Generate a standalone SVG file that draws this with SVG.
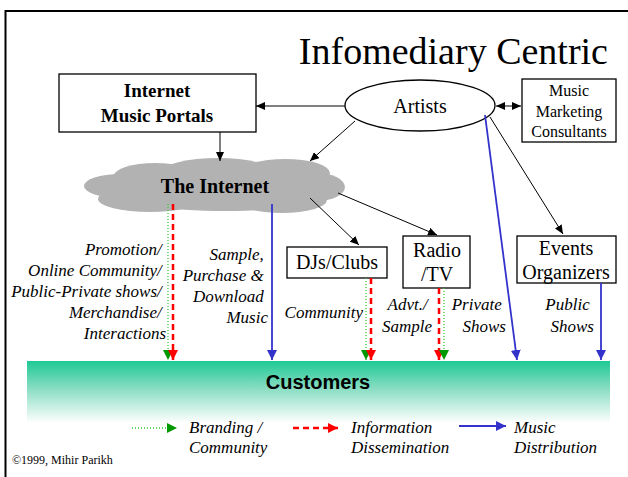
<svg xmlns="http://www.w3.org/2000/svg" width="628" height="477" viewBox="0 0 628 477">
  <style>
    .serif { font-family: "Liberation Serif", "Times New Roman", serif; fill: #000; }
    .lbl { font-family: "Liberation Serif", "Times New Roman", serif; font-style: italic; font-size: 17px; fill: #000; }
    .box { fill: #fff; stroke: #000; stroke-width: 1.3; }
    .conn { stroke: #000; stroke-width: 1; fill: none; }
    .brand { stroke: #33CC33; stroke-width: 1.3; stroke-dasharray: 1 2; fill: none; }
    .info { stroke: #FF0000; stroke-width: 2.5; stroke-dasharray: 6 4; fill: none; }
    .dist { stroke: #3333CC; stroke-width: 1.8; fill: none; }
  </style>
  <defs>
    <marker id="ahBlack" markerUnits="userSpaceOnUse" markerWidth="9" markerHeight="8" refX="9" refY="4" orient="auto-start-reverse">
      <path d="M0,0 L9,4 L0,8 z" fill="#000"/>
    </marker>
    <marker id="ahGreen" markerUnits="userSpaceOnUse" markerWidth="10" markerHeight="10" refX="10" refY="5" orient="auto">
      <path d="M0,0 L10,5 L0,10 z" fill="#009900"/>
    </marker>
    <marker id="ahRed" markerUnits="userSpaceOnUse" markerWidth="10" markerHeight="10" refX="10" refY="5" orient="auto">
      <path d="M0,0 L10,5 L0,10 z" fill="#FF0000"/>
    </marker>
    <marker id="ahBlue" markerUnits="userSpaceOnUse" markerWidth="10" markerHeight="10" refX="10" refY="5" orient="auto">
      <path d="M0,0 L10,5 L0,10 z" fill="#3333CC"/>
    </marker>
    <linearGradient id="custFade" x1="0" y1="0" x2="0" y2="1">
      <stop offset="0" stop-color="#1FC995"/>
      <stop offset="0.45" stop-color="#8ADDC3"/>
      <stop offset="1" stop-color="#FFFFFF"/>
    </linearGradient>
  </defs>

  <!-- page frame -->
  <path d="M5.5,477 V11 H628" fill="none" stroke="#000" stroke-width="2"/>

  <!-- title -->
  <text class="serif" x="608" y="64" font-size="38" text-anchor="end">Infomediary Centric</text>

  <!-- customers band -->
  <g id="customers">
    <rect x="27" y="361" width="583" height="62" fill="url(#custFade)"/>
    <text x="318" y="389" font-family="Liberation Sans, Arial, sans-serif" font-weight="bold" font-size="20" text-anchor="middle">Customers</text>
  </g>

  <!-- nodes -->
  <g id="portals">
    <rect class="box" x="59" y="74" width="197" height="58"/>
    <text class="serif" x="157" y="97" font-size="19" font-weight="bold" text-anchor="middle">Internet</text>
    <text class="serif" x="157" y="122" font-size="19" font-weight="bold" text-anchor="middle">Music Portals</text>
  </g>

  <g id="artists">
    <ellipse cx="420" cy="105.5" rx="75" ry="25.5" fill="#fff" stroke="#000" stroke-width="1.3"/>
    <text class="serif" x="420" y="113" font-size="20" text-anchor="middle">Artists</text>
  </g>

  <g id="consultants">
    <rect class="box" x="522" y="79" width="94" height="63"/>
    <text class="serif" x="569" y="96" font-size="16" text-anchor="middle">Music</text>
    <text class="serif" x="569" y="117" font-size="16" text-anchor="middle">Marketing</text>
    <text class="serif" x="569" y="137" font-size="16" text-anchor="middle">Consultants</text>
  </g>

  <g id="internet">
    <g fill="#B2B2B2">
      <ellipse cx="120" cy="186" rx="36" ry="12"/>
      <ellipse cx="155" cy="177" rx="42" ry="14"/>
      <ellipse cx="218" cy="172" rx="55" ry="14"/>
      <ellipse cx="285" cy="173" rx="45" ry="14"/>
      <ellipse cx="316" cy="187" rx="29" ry="14"/>
      <ellipse cx="225" cy="194" rx="105" ry="17"/>
      <ellipse cx="150" cy="199" rx="52" ry="13"/>
      <ellipse cx="282" cy="200" rx="45" ry="13"/>
    </g>
    <text class="serif" x="215" y="193" font-size="20" font-weight="bold" text-anchor="middle">The Internet</text>
  </g>

  <g id="djs">
    <rect class="box" x="287" y="247" width="100" height="31"/>
    <text class="serif" x="337" y="269" font-size="20" text-anchor="middle">DJs/Clubs</text>
  </g>

  <g id="radio">
    <rect class="box" x="403" y="236" width="67" height="52"/>
    <text class="serif" x="437" y="257" font-size="20" text-anchor="middle">Radio</text>
    <text class="serif" x="437" y="281" font-size="20" text-anchor="middle">/TV</text>
  </g>

  <g id="events">
    <rect class="box" x="517" y="236" width="99" height="47"/>
    <text class="serif" x="566" y="255" font-size="20" text-anchor="middle">Events</text>
    <text class="serif" x="566" y="279" font-size="20" text-anchor="middle">Organizers</text>
  </g>

  <!-- connectors -->
  <g id="connectors">
    <line class="conn" x1="345" y1="106" x2="256" y2="106" marker-end="url(#ahBlack)"/>
    <line class="conn" x1="496" y1="106" x2="521" y2="106" marker-start="url(#ahBlack)" marker-end="url(#ahBlack)"/>
    <line class="conn" x1="220" y1="132" x2="220" y2="161" marker-end="url(#ahBlack)"/>
    <line class="conn" x1="355" y1="121" x2="310" y2="161" marker-end="url(#ahBlack)"/>
    <line class="conn" x1="310" y1="198" x2="359" y2="245" marker-end="url(#ahBlack)"/>
    <line class="conn" x1="338" y1="193" x2="437" y2="235" marker-end="url(#ahBlack)"/>
    <line class="conn" x1="490" y1="117" x2="563" y2="234" marker-end="url(#ahBlack)"/>

    <!-- flows into customers -->
    <line class="brand" x1="168" y1="204" x2="168" y2="360" marker-end="url(#ahGreen)"/>
    <line class="info" x1="173" y1="204" x2="173" y2="360" marker-end="url(#ahRed)"/>
    <line class="dist" x1="272" y1="204" x2="272" y2="360" marker-end="url(#ahBlue)"/>
    <line class="brand" x1="366" y1="278" x2="366" y2="360" marker-end="url(#ahGreen)"/>
    <line class="info" x1="371" y1="278" x2="371" y2="360" marker-end="url(#ahRed)"/>
    <line class="info" x1="439" y1="288" x2="439" y2="360" marker-end="url(#ahRed)"/>
    <line class="brand" x1="444" y1="288" x2="444" y2="360" marker-end="url(#ahGreen)"/>
    <line class="dist" stroke-width="1.3" x1="485" y1="115" x2="517" y2="360" marker-end="url(#ahBlue)"/>
    <line class="dist" x1="601" y1="283" x2="601" y2="360" marker-end="url(#ahBlue)"/>
  </g>

  <!-- flow labels -->
  <g id="labels">
    <text class="lbl" text-anchor="end">
      <tspan x="166" y="255">Promotion/</tspan>
      <tspan x="166" y="276">Online Community/</tspan>
      <tspan x="166" y="297">Public-Private shows/</tspan>
      <tspan x="166" y="318">Merchandise/</tspan>
      <tspan x="166" y="339">Interactions</tspan>
    </text>
    <text class="lbl" text-anchor="end">
      <tspan x="268" y="260">Sample,</tspan>
      <tspan x="268" y="281">Purchase &amp;</tspan>
      <tspan x="268" y="302">Download</tspan>
      <tspan x="268" y="323">Music</tspan>
    </text>
    <text class="lbl" x="363" y="318" text-anchor="end">Community</text>
    <text class="lbl" text-anchor="end">
      <tspan x="432" y="310">Advt./</tspan>
      <tspan x="432" y="332">Sample</tspan>
    </text>
    <text class="lbl" text-anchor="end">
      <tspan x="506" y="310">Private</tspan>
      <tspan x="506" y="332">Shows</tspan>
    </text>
    <text class="lbl" text-anchor="end">
      <tspan x="594" y="310">Public</tspan>
      <tspan x="594" y="332">Shows</tspan>
    </text>
  </g>

  <!-- legend -->
  <g id="legend">
    <line class="brand" x1="132" y1="428" x2="177" y2="428" marker-end="url(#ahGreen)"/>
    <text class="lbl"><tspan x="189" y="433">Branding /</tspan><tspan x="189" y="453">Community</tspan></text>
    <line class="info" stroke-width="2" x1="293" y1="428" x2="338" y2="428" marker-end="url(#ahRed)"/>
    <text class="lbl"><tspan x="351" y="433">Information</tspan><tspan x="351" y="453">Dissemination</tspan></text>
    <line class="dist" stroke-width="1.5" x1="459" y1="426" x2="506" y2="426" marker-end="url(#ahBlue)"/>
    <text class="lbl"><tspan x="514" y="433">Music</tspan><tspan x="514" y="453">Distribution</tspan></text>
  </g>

  <text class="serif" x="12" y="464" font-size="12">©1999, Mihir Parikh</text>
</svg>
